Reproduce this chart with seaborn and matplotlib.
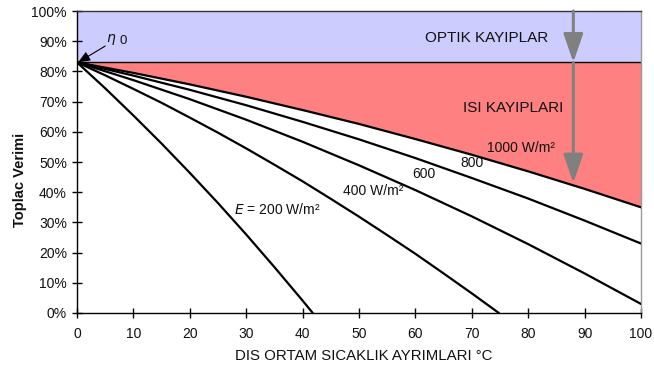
import matplotlib
matplotlib.use("Agg")
import matplotlib.pyplot as plt
import seaborn as sns
import pandas as pd
import numpy as np

sns.set_theme(style="white")
plt.rcParams['font.family'] = ['Liberation Sans', 'DejaVu Sans']

# Data (efficiency in % vs temperature difference in °C)
eta0 = 83.0
dT_hi = [0, 10, 20, 30, 40, 50, 60, 70, 80, 90, 100]
eff_1000 = [83, 79.5, 75.7, 71.6, 67.2, 62.6, 57.6, 52.4, 46.9, 41.1, 35.0]
eff_800 = [83, 78.6, 73.9, 68.8, 63.3, 57.5, 51.3, 44.7, 37.9, 30.6, 23.0]
eff_600 = [83, 77.1, 70.8, 64.0, 56.7, 48.9, 40.7, 32.0, 22.8, 13.1, 3.0]
dT_400 = [0, 5, 10, 15, 20, 25, 30, 35, 40, 45, 50, 55, 60, 65, 70, 74.8]
eff_400 = [83, 78.7, 74.2, 69.6, 64.7, 59.7, 54.5, 49.1, 43.6, 37.8, 31.9, 25.8,
           19.6, 13.1, 6.5, 0]
dT_200 = [0, 5, 10, 15, 20, 25, 30, 35, 40, 41.8]
eff_200 = [83, 74.4, 65.4, 56.1, 46.4, 36.4, 26.0, 15.2, 4.1, 0]
xticks = [0, 10, 20, 30, 40, 50, 60, 70, 80, 90, 100]
yticks = [0, 10, 20, 30, 40, 50, 60, 70, 80, 90, 100]

frames = []
for name, xs, ys in [("1000", dT_hi, eff_1000), ("800", dT_hi, eff_800),
                     ("600", dT_hi, eff_600), ("400", dT_400, eff_400),
                     ("200", dT_200, eff_200)]:
    frames.append(pd.DataFrame({"E": name, "dT": xs, "eta": ys}))
df = pd.concat(frames, ignore_index=True)

fig = plt.figure(figsize=(6.54, 3.72), dpi=100)
ax = fig.add_axes([77/654, 59/372, (641-77)/654, (313-11)/372])

# shaded regions
ax.fill_between([0, 100], [eta0, eta0], [100, 100], color="#CCCCFF", lw=0, zorder=0)
ax.fill_between(dT_hi, eff_1000, [eta0]*len(dT_hi), color="#FF8080", lw=0, zorder=0)
ax.plot([0, 100], [eta0, eta0], color="black", lw=1, zorder=1)

sns.lineplot(data=df, x="dT", y="eta", hue="E", palette=["black"]*5, sort=False,
             estimator=None, lw=1.6, legend=False, ax=ax, zorder=3)

ax.set_xlim(0, 100)
ax.set_ylim(0, 100)
ax.set_xticks(xticks)
ax.set_yticks(yticks)
ax.set_yticklabels([f"{v}%" for v in yticks])
ax.tick_params(axis="both", direction="inout", length=6.5, width=1, colors="black",
               labelsize=10, labelcolor="#111111")
ax.tick_params(axis="x", pad=7)
ax.tick_params(axis="y", pad=4)
ax.tick_params(axis="both", bottom=True, left=True)
for side in ["left", "bottom"]:
    ax.spines[side].set_color("black")
    ax.spines[side].set_linewidth(1)
ax.spines["top"].set_color("#333333")
ax.spines["top"].set_linewidth(1)
ax.spines["right"].set_color("#999999")
ax.spines["right"].set_linewidth(1)

ax.set_xlabel("DIS ORTAM SICAKLIK AYRIMLARI °C", fontsize=10.8, color="#111111")
ax.xaxis.set_label_coords(0.509, -0.12)
ax.set_ylabel("Toplac Verimi", fontsize=10.5, fontweight="bold", color="#111111")
ax.yaxis.set_label_coords(-0.089, 0.44)

# arrows
x_arr = 88
y_line_at_arr = float(np.interp(x_arr, dT_hi, eff_1000))
astyle = "-|>,head_length=1.45,head_width=0.5"
ax.annotate("", xy=(x_arr, eta0), xytext=(x_arr, 100),
            arrowprops=dict(arrowstyle=astyle, color="#808080", lw=2.2,
                            shrinkA=0, shrinkB=0), zorder=4)
ax.annotate("", xy=(x_arr, y_line_at_arr + 0.8), xytext=(x_arr, eta0),
            arrowprops=dict(arrowstyle=astyle, color="#808080", lw=2.2,
                            shrinkA=0, shrinkB=0), zorder=4)

# eta0 annotation
ax.annotate("", xy=(0.2, eta0), xytext=(5.0, 88.4),
            arrowprops=dict(arrowstyle="-|>,head_length=0.6,head_width=0.25",
                            color="black", lw=0.8, shrinkA=0, shrinkB=0), zorder=5)
ax.text(6.0, 90.6, r"$\eta$", fontsize=10, ha="center", va="center", color="#111111")
ax.text(8.2, 90.0, "0", fontsize=9.5, ha="center", va="center", color="#111111")

# texts
ax.text(72.7, 91, "OPTIK KAYIPLAR", fontsize=11, ha="center", va="center", color="#111111")
ax.text(77.3, 68, "ISI KAYIPLARI", fontsize=11, ha="center", va="center", color="#111111")
ax.text(78.7, 54.7, "1000 W/m²", fontsize=10, ha="center", va="center", color="#111111")
ax.text(70.0, 49.6, "800", fontsize=10, ha="center", va="center", color="#111111")
ax.text(61.5, 46.0, "600", fontsize=10, ha="center", va="center", color="#111111")
ax.text(52.5, 40.5, "400 W/m²", fontsize=10, ha="center", va="center", color="#111111")
ax.text(35.5, 34.2, r"$E$ = 200 W/m²", fontsize=10, ha="center", va="center", color="#111111")

fig.savefig("out.png", dpi=100)
